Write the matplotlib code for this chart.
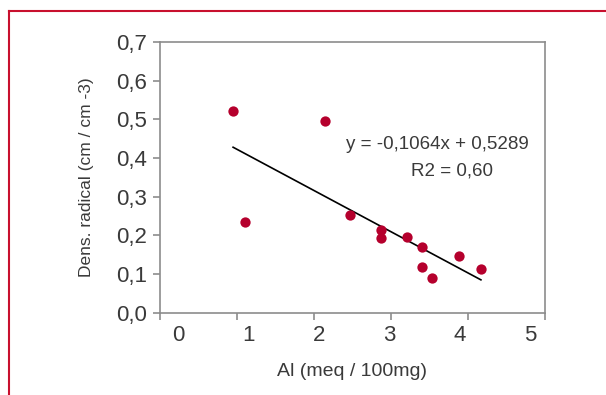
import numpy as np
import matplotlib.pyplot as plt
from matplotlib.lines import Line2D

# Al (meq / 100mg) vs root density
al = [0.95, 2.14, 1.11, 2.47, 2.87, 2.87, 3.21, 3.41, 3.40, 3.54, 3.88, 4.17]
dens = [0.521, 0.495, 0.235, 0.253, 0.213, 0.193, 0.196, 0.171, 0.118, 0.091, 0.146, 0.113]

# trendline as printed on the chart
slope = -0.1064
intercept = 0.5289
eq_text = "y = -0,1064x + 0,5289"
r2_text = "R2 = 0,60"

x_ticks = [0, 1, 2, 3, 4, 5]
y_ticks = [0.0, 0.1, 0.2, 0.3, 0.4, 0.5, 0.6, 0.7]

plt.rcParams["font.family"] = ["Liberation Sans", "DejaVu Sans"]

grey = "#8c8c8c"
text_col = "#3a3a3a"
red = "#b5002d"

fig = plt.figure(figsize=(6.06, 3.95), dpi=100)
ax = fig.add_axes([0.264, 0.208, 0.635, 0.686])

ax.scatter(al, dens, s=55, color=red, zorder=3, linewidths=0)

xs = np.array([min(al), max(al)])
ax.plot(xs, slope * xs + intercept, color="black", lw=1.2, zorder=2)

ax.set_xlim(0, 5)
ax.set_ylim(0, 0.7)
ax.set_yticks(y_ticks)
ax.set_yticklabels([f"{v:.1f}".replace(".", ",") for v in y_ticks])

# Excel draws the x labels slightly squeezed toward the centre
ax.set_xticks(x_ticks)
ax.set_xticklabels([])
ax.set_xticks([0.24 + i * 0.913 for i in range(len(x_ticks))], minor=True)
ax.set_xticklabels([str(v) for v in x_ticks], minor=True)
ax.tick_params(axis="x", which="minor", length=0, pad=9)

for s in ax.spines.values():
    s.set_color(grey)
    s.set_linewidth(1.2)
ax.tick_params(axis="both", which="major", direction="out", length=5,
               width=1.2, color=grey, labelsize=16, labelcolor=text_col)
ax.tick_params(axis="x", which="minor", labelsize=16, labelcolor=text_col)
ax.tick_params(axis="y", pad=4)

ax.set_xlabel("Al (meq / 100mg)", fontsize=14, color=text_col, labelpad=12)
ax.set_ylabel("Dens. radical (cm / cm -3)", fontsize=12.5, color=text_col, labelpad=16)

ax.text(0.72, 0.62, eq_text, transform=ax.transAxes, ha="center", va="center",
        fontsize=13.5, color=text_col)
ax.text(0.76, 0.525, r2_text, transform=ax.transAxes, ha="center", va="center",
        fontsize=13.5, color=text_col)

# red frame round the figure (only top and left edges show)
frame_col = "#c8102e"
fig.add_artist(Line2D([0.015, 1.0], [0.973, 0.973], transform=fig.transFigure,
                      color=frame_col, lw=1.5))
fig.add_artist(Line2D([0.015, 0.015], [0.0, 0.973], transform=fig.transFigure,
                      color=frame_col, lw=1.5))

fig.savefig("out.png", dpi=100)
